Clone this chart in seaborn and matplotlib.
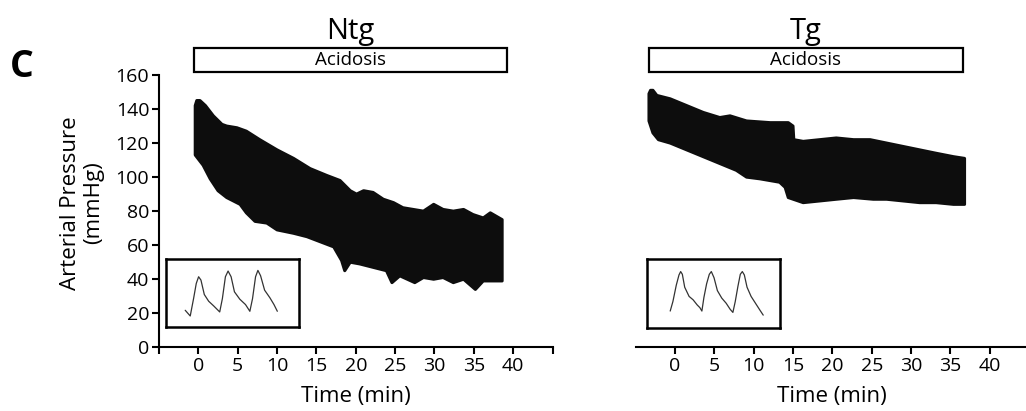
import numpy as np
import matplotlib
matplotlib.use("Agg")
import matplotlib.pyplot as plt
from matplotlib.patches import Rectangle
import seaborn as sns

# envelope of arterial pressure trace (min, mmHg)
ntg_top_t = [-0.4, -0.2, 0.2, 0.9, 1.9, 3.0, 3.6, 4.9, 6.1, 7.8, 10.0, 12.1, 14.2, 16.3, 18.0,
             19.3, 20.1, 21.0, 22.2, 23.5, 24.8, 26.0, 27.3, 28.6, 29.9, 31.1, 32.4, 33.7,
             34.9, 36.2, 37.1, 38.6]
ntg_top_p = [142, 145, 145, 142, 136, 131, 130, 129, 127, 122, 116, 111, 105, 101, 98,
             92, 90, 92, 91, 87, 85, 82, 81, 80, 84, 81, 80, 81, 78, 76, 79, 75]
ntg_bot_t = [-0.4, 0.6, 1.5, 2.5, 3.6, 5.3, 6.1, 7.2, 8.7, 10.0, 12.1, 13.8, 15.5, 17.2, 18.2,
             18.6, 19.3, 20.5, 22.2, 23.9, 24.6, 25.6, 27.5, 28.6, 29.9, 31.1, 32.4, 33.7,
             35.2, 36.2, 38.6]
ntg_bot_p = [113, 107, 99, 92, 88, 84, 79, 74, 73, 69, 67, 65, 62, 59, 51,
             45, 50, 49, 47, 45, 38, 42, 38, 41, 40, 41, 38, 40, 34, 39, 39]

tg_top_t = [-3.3, -3.1, -2.8, -2.3, -0.6, 1.5, 3.6, 5.7, 7.0, 9.1, 12.1, 14.4, 15.0, 15.1,
            16.3, 18.4, 20.5, 22.7, 24.8, 26.9, 29.0, 31.1, 33.2, 35.4, 36.8]
tg_top_p = [149, 151, 151, 148, 146, 142, 138, 135, 136, 133, 132, 132, 130, 122,
            121, 122, 123, 122, 122, 120, 118, 116, 114, 112, 111]
tg_bot_t = [-3.3, -2.8, -2.1, -0.6, 1.5, 3.6, 5.7, 7.8, 9.1, 10.8, 13.3, 14.0, 14.4, 16.3,
            18.4, 20.5, 22.7, 25.2, 26.9, 29.0, 31.1, 33.2, 35.4, 36.8]
tg_bot_p = [133, 126, 122, 120, 116, 112, 108, 104, 100, 99, 97, 94, 88, 85,
            86, 87, 88, 87, 87, 86, 85, 85, 84, 84]

# example pulse waveforms shown in the insets (arbitrary units)
ntg_wave_x = [57, 72, 82, 90, 97, 104, 114, 127, 142, 160, 168, 177, 185, 194, 204, 220,
              237, 250, 258, 267, 274, 282, 294, 310, 322, 332]
ntg_wave_y = [50, 33, 85, 130, 150, 140, 97, 77, 63, 45, 85, 150, 167, 150, 105, 83,
              67, 47, 85, 150, 169, 153, 110, 87, 67, 47]
tg_wave_x = [70, 78, 88, 96, 101, 106, 113, 126, 138, 150, 158, 164, 170, 178, 186, 192,
             200, 210, 223, 236, 248, 256, 263, 271, 278, 284, 290, 298, 310, 323, 336, 346]
tg_wave_y = [50, 78, 126, 156, 166, 158, 120, 93, 83, 68, 60, 50, 90, 130, 158, 166,
             148, 110, 88, 73, 55, 46, 78, 123, 158, 166, 156, 120, 93, 73, 53, 38]

acid_ntg = (-0.6, 39.2)
acid_tg = (-3.3, 36.6)
y_ticks = list(range(0, 161, 20))

sns.set_style("ticks")
plt.rcParams['font.family'] = ['Open Sans', 'DejaVu Sans']
plt.rcParams['axes.linewidth'] = 1.5
plt.rcParams['text.color'] = 'black'
plt.rcParams['axes.labelcolor'] = 'black'
plt.rcParams['xtick.color'] = 'black'
plt.rcParams['ytick.color'] = 'black'

fig = plt.figure(figsize=(10.26, 4.11), dpi=100)
ax1 = fig.add_axes([0.155, 0.155, 0.3835, 0.6625])
ax2 = fig.add_axes([0.6195, 0.155, 0.3835, 0.6625])

black = '#0d0d0d'


def draw_panel(ax, top_t, top_p, bot_t, bot_p, acid, title, wave_x, wave_y, inset_box):
    xs = np.concatenate([top_t, bot_t[::-1]])
    ys = np.concatenate([top_p, bot_p[::-1]])
    ax.fill(xs, ys, color=black, lw=2.2, ec=black, joinstyle='round')
    ax.set_xlim(-5, 45)
    ax.set_ylim(0, 160)
    ax.set_xlabel('Time (min)', fontsize=16, labelpad=8, color='black')

    # acidosis bar
    ax.add_patch(Rectangle((acid[0], 161.5), acid[1] - acid[0], 14.2, fill=False,
                           lw=1.6, ec='black', clip_on=False))
    ax.text((acid[0] + acid[1]) / 2, 168.6, 'Acidosis', ha='center', va='center',
            fontsize=13.5, color='black', clip_on=False)
    ax.text((acid[0] + acid[1]) / 2, 181, title, ha='center', va='baseline',
            fontsize=21, color='black', clip_on=False)

    ins = ax.inset_axes(inset_box, transform=ax.transData)
    sns.lineplot(x=wave_x, y=wave_y, sort=False, ax=ins, color='#333333', lw=0.9)
    ins.set_xlim(0, 397)
    ins.set_ylim(0, 203)
    ins.set_xticks([])
    ins.set_yticks([])
    for s in ins.spines.values():
        s.set_visible(True)
        s.set_linewidth(1.8)
        s.set_color('black')


draw_panel(ax1, np.array(ntg_top_t), np.array(ntg_top_p), np.array(ntg_bot_t),
           np.array(ntg_bot_p), acid_ntg, 'Ntg', ntg_wave_x, ntg_wave_y,
           [-4.1, 11.9, 16.9, 40.0])
draw_panel(ax2, np.array(tg_top_t), np.array(tg_top_p), np.array(tg_bot_t),
           np.array(tg_bot_p), acid_tg, 'Tg', tg_wave_x, tg_wave_y,
           [-3.6, 11.3, 17.0, 40.6])

ax1.set_xticks(list(range(-5, 50, 5)))
ax1.set_xticklabels([''] + [str(v) for v in range(0, 45, 5)] + [''])
ax1.set_yticks(y_ticks)
ax1.set_yticklabels([str(v) for v in y_ticks])
ax2.set_xticks(list(range(0, 45, 5)))
ax2.set_yticks([])

sns.despine(ax=ax1)
sns.despine(ax=ax2, left=True)

for ax in (ax1, ax2):
    ax.tick_params(axis='both', labelsize=14, width=1.5, length=5, colors='black',
                   labelcolor='black', pad=2)
    for s in ax.spines.values():
        s.set_color('black')

fig.text(82 / 1026, 1 - 203 / 411, 'Arterial Pressure\n(mmHg)', rotation=90,
         ha='center', va='center', fontsize=16, linespacing=1.15, color='black')
fig.text(22 / 1026, 1 - 77 / 411, 'C', ha='center', va='baseline', fontsize=27,
         fontweight='bold', color='black')

fig.savefig('out.png', dpi=100, facecolor='white')
